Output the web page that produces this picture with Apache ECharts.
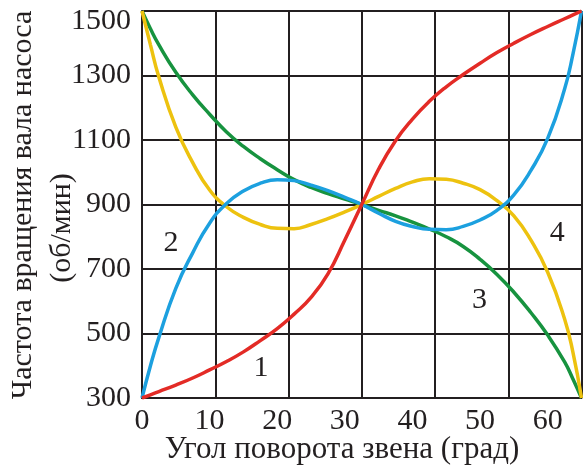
<!DOCTYPE html>
<html>
<head>
<meta charset="utf-8">
<script src="https://cdn.jsdelivr.net/npm/echarts@6/dist/echarts.min.js"></script>
<style>
  html, body { margin: 0; padding: 0; background: #fff; }
  #chart { width: 583px; height: 468px; }
</style>
</head>
<body>
<div id="chart"></div>
<script>
// угол поворота звена, град
const angles = [0, 1.25, 2.5, 5, 7.5, 10, 12.5, 15, 17.5, 20, 22.5, 25, 27.5, 30, 32.5,
  35, 37.5, 40, 42.5, 45, 47.5, 50, 52.5, 55, 57.5, 60, 62.5, 63.75, 65]

// частота вращения, об/мин (кривые 1..4)
const speed1 = [300, 310, 320, 340, 362, 387, 413, 443, 478, 515, 560, 612, 685, 790, 900,
  1010, 1098, 1165, 1220, 1265, 1303, 1338, 1371, 1400, 1427, 1452, 1476, 1488, 1500]
const speed2 = [300, 400, 488, 640, 750, 842, 903, 942, 966, 977, 974, 960, 943, 922, 900,
  873, 848, 832, 823, 822, 832, 852, 882, 930, 1005, 1105, 1258, 1368, 1500]
const speed3 = [1500, 1445, 1395, 1310, 1240, 1180, 1125, 1080, 1042, 1008, 977, 953, 934, 917, 900,
  882, 865, 845, 824, 800, 770, 730, 683, 628, 565, 495, 412, 358, 300]
const speed4 = [1500, 1395, 1295, 1140, 1030, 945, 893, 860, 838, 826, 825, 838, 856, 877, 900,
  925, 950, 970, 980, 978, 966, 946, 912, 865, 790, 690, 545, 440, 300]

const curveNames = ['1', '2', '3', '4']
const curveColors = ['#e32b26', '#1ca0df', '#17933f', '#edc20f']
// где стоят номера кривых (угол, частота)
const labelSpots = [[17.6, 393], [4.3, 780], [49.9, 604], [61.4, 812]]

const yTitle = 'Частота вращения вала насоса'
const yUnit = '(об/мин)'
const xTitle = 'Угол поворота звена (град)'

const font = 'Liberation Serif'
const ink = '#231f20'

const pairs = ys => angles.map((a, i) => [a, ys[i]])
const speeds = [speed1, speed2, speed3, speed4]

const myChart = echarts.init(document.getElementById('chart'))

// порядок отрисовки: зелёная, жёлтая, синяя, красная сверху
const drawOrder = [2, 3, 1, 0]
const lines = drawOrder.map(k => ({
  name: curveNames[k],
  type: 'line',
  xAxisIndex: 0,
  smooth: 0.5,
  symbol: 'none',
  data: pairs(speeds[k]),
  lineStyle: { color: curveColors[k], width: 3.5 },
  z: 3
}))

const option = {
  animation: false,
  grid: { left: 142, right: 1.5, top: 11, bottom: 70, containLabel: false, outerBoundsMode: 'none' },
  xAxis: [{
    type: 'value',
    min: 0,
    max: 65,
    interval: 10,
    axisLine: { show: true, onZero: false, lineStyle: { color: ink, width: 2 } },
    axisTick: { show: false },
    splitLine: { show: false },
    axisLabel: { fontFamily: font, fontSize: 30, color: ink, margin: 8, showMaxLabel: false }
  }, {
    // сетка делит поле на 6 равных столбцов
    type: 'value',
    min: 0,
    max: 6,
    interval: 1,
    position: 'bottom',
    axisLine: { show: false },
    axisTick: { show: false },
    axisLabel: { show: false },
    splitLine: { show: true, lineStyle: { color: ink, width: 2 } }
  }],
  yAxis: {
    type: 'value',
    min: 300,
    max: 1500,
    interval: 200,
    axisLine: { show: true, lineStyle: { color: ink, width: 2 } },
    axisTick: { show: false },
    splitLine: { show: true, lineStyle: { color: ink, width: 2 } },
    axisLabel: {
      fontFamily: font, fontSize: 30, color: ink, margin: 11,
      formatter: v => v === 1500 ? '{top|1500}' : String(v),
      rich: { top: { fontFamily: font, fontSize: 30, color: ink, padding: [20, 0, 0, 0] } }
    }
  },
  series: [...lines, {
    type: 'scatter',
    symbolSize: 0,
    itemStyle: { opacity: 1, color: ink },
    data: labelSpots.map((p, i) => ({ value: p, name: curveNames[i] })),
    label: {
      show: true,
      position: 'inside',
      formatter: p => p.name,
      fontFamily: font, fontSize: 30, color: ink, opacity: 1,
      textBorderWidth: 0
    },
    z: 4
  }],
  graphic: [{
    type: 'text',
    x: 23, y: 205,
    rotation: Math.PI / 2,
    style: { text: yTitle, fontFamily: font, fontSize: 30, fill: ink, textAlign: 'center', textVerticalAlign: 'middle' }
  }, {
    type: 'text',
    x: 62, y: 228,
    rotation: Math.PI / 2,
    style: { text: yUnit, fontFamily: font, fontSize: 30, fill: ink, textAlign: 'center', textVerticalAlign: 'middle' }
  }, {
    type: 'text',
    x: 342, y: 450,
    style: { text: xTitle, fontFamily: font, fontSize: 31, fill: ink, textAlign: 'center', textVerticalAlign: 'middle' }
  }]
}

myChart.setOption(option)
</script>
</body>
</html>
